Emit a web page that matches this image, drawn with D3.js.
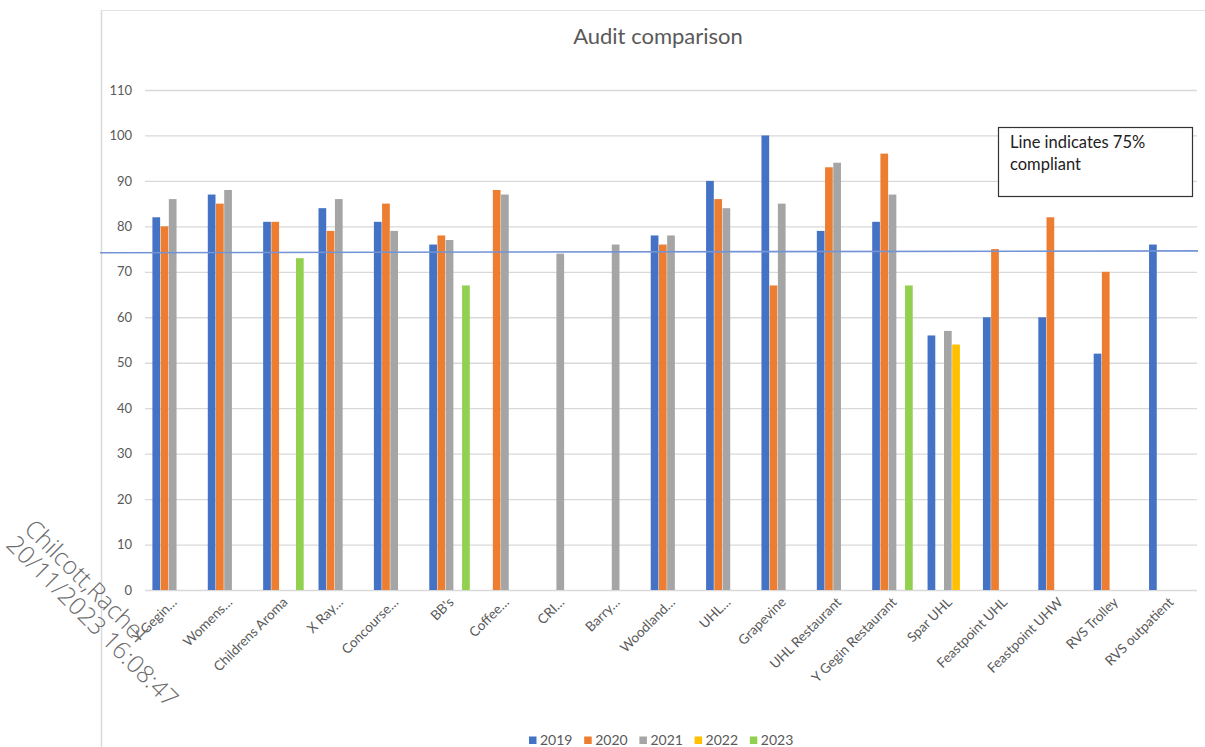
<!DOCTYPE html>
<html>
<head>
<meta charset="utf-8">
<script src="https://cdn.jsdelivr.net/npm/d3@7"></script>
<style>
  html, body { margin: 0; padding: 0; background: #fff; }
  svg { display: block; }
</style>
</head>
<body>
<svg id="chart" width="1205" height="747"></svg>
<script>
// Sites audited
const categories = [
  "Y Gegin…", "Womens…", "Childrens Aroma", "X Ray…", "Concourse…", "BB's",
  "Coffee…", "CRI…", "Barry…", "Woodland…", "UHL…", "Grapevine",
  "UHL Restaurant", "Y Gegin Restaurant", "Spar UHL", "Feastpoint UHL",
  "Feastpoint UHW", "RVS Trolley", "RVS outpatient"
];

// Audit scores per year (null = no audit that year)
const years = ["2019", "2020", "2021", "2022", "2023"];
const s2019 = [82, 87, 81, 84, 81, 76, null, null, null, 78, 90, 100, 79, 81, 56, 60, 60, 52, 76];
const s2020 = [80, 85, 81, 79, 85, 78, 88, null, null, 76, 86, 67, 93, 96, null, 75, 82, 70, null];
const s2021 = [86, 88, null, 86, 79, 77, 87, 74, 76, 78, 84, 85, 94, 87, 57, null, null, null, null];
const s2022 = [null, null, null, null, null, null, null, null, null, null, null, null, null, null, 54, null, null, null, null];
const s2023 = [null, null, 73, null, null, 67, null, null, null, null, null, null, null, 67, null, null, null, null, null];
const series = [s2019, s2020, s2021, s2022, s2023];
const colors = ["#4472C4", "#ED7D31", "#A5A5A5", "#FFC000", "#92D050"];

const yTicks = [0, 10, 20, 30, 40, 50, 60, 70, 80, 90, 100, 110];
const threshold = [74.2, 74.6]; // hand-placed compliance line, left and right ends
const noteLines = ["Line indicates 75%", "compliant"];

const font = "Lato, 'Open Sans', sans-serif";
const svg = d3.select("#chart");

// chart frame
svg.append("line").attr("x1", 101.5).attr("x2", 101.5).attr("y1", 10).attr("y2", 747)
  .attr("stroke", "#d9d9d9").attr("stroke-width", 1.5);
svg.append("line").attr("x1", 101).attr("x2", 1205).attr("y1", 10.5).attr("y2", 10.5)
  .attr("stroke", "#e3e3e3").attr("stroke-width", 1);

const plot = { left: 145, right: 1197, top: 90, bottom: 590 };

const y = d3.scaleLinear().domain([0, 110]).range([plot.bottom, plot.top]);
const x0 = d3.scaleBand().domain(categories).range([plot.left, plot.right])
  .paddingInner(0.25).paddingOuter(0.125);
const x1 = d3.scaleBand().domain(years).range([0, x0.bandwidth()]).padding(0.06);

// title
svg.append("text").attr("x", 658).attr("y", 44).attr("text-anchor", "middle")
  .attr("font-family", font).attr("font-size", 22).attr("fill", "#595959")
  .text("Audit comparison");

// gridlines and y labels
const yAxis = d3.axisLeft(y).tickValues(yTicks).tickSize(-(plot.right - plot.left)).tickPadding(13);
const gy = svg.append("g").attr("transform", `translate(${plot.left},0)`).call(yAxis);
gy.select(".domain").remove();
gy.selectAll(".tick line").attr("stroke", "#d9d9d9").attr("stroke-width", 1.3);
gy.selectAll(".tick text").attr("font-family", font).attr("font-size", 13).attr("fill", "#595959");

// bars
const gBars = svg.append("g");
series.forEach((vals, si) => {
  gBars.selectAll(null)
    .data(vals.map((v, i) => ({ v, c: categories[i] })).filter(d => d.v != null))
    .enter().append("rect")
    .attr("x", d => x0(d.c) + x1(years[si]))
    .attr("y", d => y(d.v))
    .attr("width", x1.bandwidth())
    .attr("height", d => y(0) - y(d.v))
    .attr("fill", colors[si]);
});

// x category labels
const xAxis = d3.axisBottom(x0).tickSize(0).tickPadding(0);
const gx = svg.append("g").attr("transform", `translate(0,${plot.bottom})`).call(xAxis);
gx.select(".domain").remove();
gx.selectAll(".tick text")
  .attr("font-family", font).attr("font-size", 13.5).attr("fill", "#595959")
  .attr("text-anchor", "end").attr("dy", null)
  .attr("transform", "translate(5,13) rotate(-45)");

// 75% compliance line
svg.append("line")
  .attr("x1", 100).attr("x2", 1198)
  .attr("y1", y(threshold[0])).attr("y2", y(threshold[1]))
  .attr("stroke", "#7293d6").attr("stroke-width", 1.6);

// note box
const note = svg.append("g").attr("transform", "translate(998,127)");
note.append("rect").attr("x", 0.5).attr("y", 0.5).attr("width", 194).attr("height", 69)
  .attr("fill", "#fff").attr("stroke", "#333").attr("stroke-width", 1.2);
note.selectAll("text").data(noteLines).enter().append("text")
  .attr("x", 12).attr("y", (d, i) => 21 + i * 22)
  .attr("font-family", font).attr("font-size", 16.5).attr("fill", "#222")
  .text(d => d);

// legend
const legend = svg.append("g").attr("transform", "translate(529,745)");
const li = legend.selectAll("g").data(years).enter().append("g")
  .attr("transform", (d, i) => `translate(${i * 55.2},0)`);
li.append("rect").attr("x", 0).attr("y", -8.5).attr("width", 7.5).attr("height", 7.5)
  .attr("fill", (d, i) => colors[i]);
li.append("text").attr("x", 11).attr("y", 0)
  .attr("font-family", font).attr("font-size", 14).attr("fill", "#595959")
  .text(d => d);

// reviewer stamp
const stamp = svg.append("g").attr("font-family", "'Open Sans', sans-serif")
  .attr("font-size", 24.5).attr("fill", "#6b6b6b").attr("font-weight", 300);
stamp.append("text").attr("transform", "translate(23,530) rotate(45)").text("Chilcott,Rachel");
stamp.append("text").attr("transform", "translate(5,546) rotate(45)").text("20/11/2023 16:08:47");
</script>
</body>
</html>
